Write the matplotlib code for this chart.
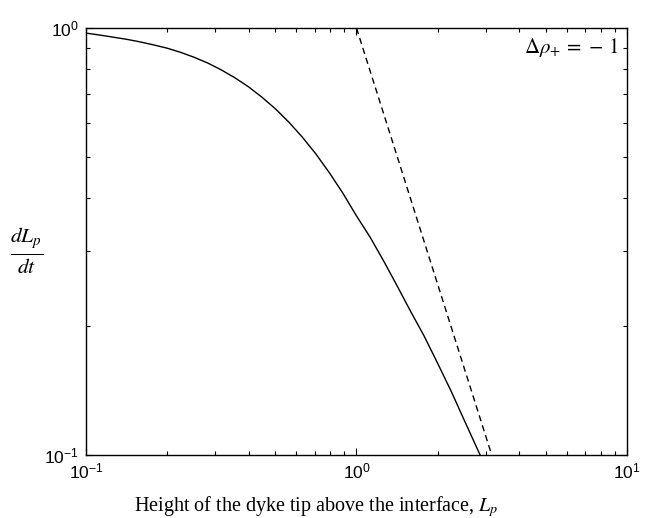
import math
import matplotlib
matplotlib.use("Agg")
import matplotlib.pyplot as plt
from matplotlib.ticker import LogLocator, NullFormatter, FuncFormatter

# solid curve: dyke tip velocity vs height above the interface
height = [0.100, 0.1122, 0.1259, 0.1413, 0.1585, 0.1778, 0.1995, 0.2239, 0.2512,
          0.2818, 0.3162, 0.3548, 0.3981, 0.4467, 0.5012, 0.5623, 0.6310, 0.7079,
          0.7943, 0.8913, 1.000, 1.122, 1.259, 1.413, 1.585, 1.778, 1.995, 2.239,
          2.512, 2.864]
velocity = [0.973, 0.963, 0.952, 0.941, 0.928, 0.913, 0.897, 0.877, 0.854,
            0.828, 0.798, 0.765, 0.729, 0.689, 0.647, 0.602, 0.555, 0.507,
            0.458, 0.410, 0.363, 0.324, 0.285, 0.249, 0.217, 0.190, 0.164, 0.141,
            0.120, 0.100]

# dashed asymptote
asym_x = [1.0, 3.162]
asym_y = [1.0, 0.1]

plt.rcParams['font.family'] = ['Liberation Sans', 'DejaVu Sans']
plt.rcParams['mathtext.fontset'] = 'custom'
plt.rcParams['mathtext.rm'] = 'Liberation Sans'
plt.rcParams['mathtext.it'] = 'Liberation Sans:italic'
plt.rcParams['mathtext.default'] = 'it'
plt.rcParams['axes.unicode_minus'] = False

fig = plt.figure(figsize=(6.46, 5.18), dpi=100)
ax = fig.add_axes([0.1331, 0.1216, 0.8375, 0.8243])

ax.plot(height, velocity, color='black', linewidth=1.0)
ax.plot(asym_x, asym_y, color='black', linewidth=1.0, linestyle=(0, (4.5, 3)))

ax.set_xscale('log')
ax.set_yscale('log')
ax.set_xlim(0.1, 10)
ax.set_ylim(0.1, 1)

pow_fmt = FuncFormatter(lambda v, p: r'$\mathrm{10^{%d}}$' % round(math.log10(v)))
ax.xaxis.set_major_locator(LogLocator(base=10, numticks=10))
ax.yaxis.set_major_locator(LogLocator(base=10, numticks=10))
ax.xaxis.set_major_formatter(pow_fmt)
ax.yaxis.set_major_formatter(pow_fmt)
ax.xaxis.set_minor_locator(LogLocator(base=10, subs=range(2, 10), numticks=20))
ax.yaxis.set_minor_locator(LogLocator(base=10, subs=range(2, 10), numticks=20))
ax.xaxis.set_minor_formatter(NullFormatter())
ax.yaxis.set_minor_formatter(NullFormatter())

ax.tick_params(which='both', direction='in', top=True, right=True,
               labelsize=12.5, width=0.8)
ax.tick_params(which='major', length=5, pad=5)
ax.tick_params(which='minor', length=3)
for sp in ax.spines.values():
    sp.set_linewidth(1.0)

ax.set_xlabel(r'Height of the dyke tip above the interface, $L_p$',
              family='Liberation Serif', math_fontfamily='stix', fontsize=14.5,
              va='center')
ax.xaxis.set_label_coords(0.425, -0.12)
ax.set_ylabel(r'$\frac{dL_p}{dt}$', math_fontfamily='stix', fontsize=22,
              rotation=0, va='center', ha='center')
ax.yaxis.set_label_coords(-0.109, 0.48)

ax.text(0.985, 0.955, r'$\Delta\rho_{+}\,=\,-\,1$', transform=ax.transAxes,
        ha='right', va='center', math_fontfamily='stix', fontsize=15)

fig.savefig('out.png', dpi=100)
